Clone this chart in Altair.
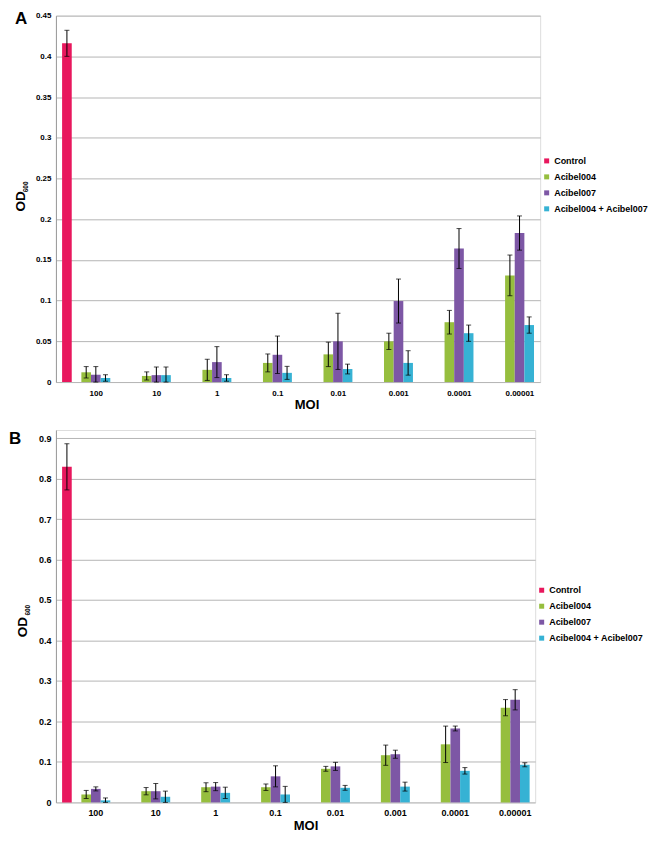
import altair as alt
import pandas as pd

moi = ["100", "10", "1", "0.1", "0.01", "0.001", "0.0001", "0.00001"]
series = ["Control", "Acibel004", "Acibel007", "Acibel004 + Acibel007"]
slots = ["Control", "gap", "Acibel004", "Acibel007", "Acibel004 + Acibel007"]
colors = ["#E8175D", "#96BE3E", "#7D57A5", "#36B2D4"]

# Panel A
a_control = [0.416]
a_control_err = [0.016]
a_004 = [0.012, 0.0075, 0.015, 0.0235, 0.034, 0.05, 0.0735, 0.131]
a_004_err = [0.007, 0.005, 0.013, 0.011, 0.015, 0.01, 0.0145, 0.025]
a_007 = [0.009, 0.0085, 0.0245, 0.0335, 0.05, 0.0995, 0.164, 0.183]
a_007_err = [0.01, 0.01, 0.019, 0.023, 0.0345, 0.027, 0.0245, 0.021]
a_combo = [0.005, 0.0085, 0.005, 0.0113, 0.016, 0.0235, 0.06, 0.07]
a_combo_err = [0.004, 0.01, 0.004, 0.008, 0.006, 0.015, 0.01, 0.01]
a_ticks = [0, 0.05, 0.1, 0.15, 0.2, 0.25, 0.3, 0.35, 0.4, 0.45]

# Panel B
b_control = [0.829]
b_control_err = [0.057]
b_004 = [0.0196, 0.0277, 0.0375, 0.0375, 0.083, 0.1166, 0.1435, 0.234]
b_004_err = [0.01, 0.009, 0.011, 0.008, 0.006, 0.025, 0.045, 0.02]
b_007 = [0.0334, 0.0277, 0.039, 0.0644, 0.089, 0.119, 0.1826, 0.2535]
b_007_err = [0.005, 0.019, 0.01, 0.026, 0.01, 0.01, 0.006, 0.025]
b_combo = [0.005, 0.0139, 0.0236, 0.0196, 0.036, 0.039, 0.078, 0.093]
b_combo_err = [0.006, 0.014, 0.014, 0.02, 0.006, 0.011, 0.008, 0.005]
b_ticks = [0, 0.1, 0.2, 0.3, 0.4, 0.5, 0.6, 0.7, 0.8, 0.9]

FONT = "Liberation Sans"


def build_df(ctrl, ctrl_err, s004, e004, s007, e007, sc, ec):
    rows = [dict(moi=moi[0], series="Control", value=ctrl[0], err=ctrl_err[0])]
    for i, m in enumerate(moi):
        rows.append(dict(moi=m, series="Acibel004", value=s004[i], err=e004[i]))
        rows.append(dict(moi=m, series="Acibel007", value=s007[i], err=e007[i]))
        rows.append(dict(moi=m, series="Acibel004 + Acibel007", value=sc[i], err=ec[i]))
    df = pd.DataFrame(rows)
    df["lo"] = (df["value"] - df["err"]).clip(lower=0)
    df["hi"] = df["value"] + df["err"]
    return df


def panel(letter, df, ymax, ticks, w, h, tick_fs, leg_fs, legx, legy, titlex, titley,
          lab_pad, od_pos, sub_pos, letter_pos, left_guard):
    x = alt.X("moi:N", sort=moi,
              scale=alt.Scale(paddingInner=0, paddingOuter=0),
              axis=alt.Axis(title="MOI", labelAngle=0, labelOffset=10, labelFontSize=tick_fs,
                            labelFontWeight="bold", labelColor="black", labelPadding=lab_pad,
                            titleFontSize=13, titleFontWeight="bold", titleColor="black",
                            titleX=titlex, titleY=titley, titleBaseline="middle",
                            domain=False, ticks=False, labelFont=FONT, titleFont=FONT))
    xo = alt.XOffset("series:N", scale=alt.Scale(domain=slots, paddingInner=0, paddingOuter=0.64))
    yscale = alt.Scale(domain=[0, ymax], nice=False)
    base = alt.Chart(df)
    bars = base.mark_bar().encode(
        x=x, xOffset=xo,
        y=alt.Y("value:Q", scale=yscale,
                axis=alt.Axis(values=ticks, format="~g", title=None, grid=True,
                              gridColor="#b5b5b5", gridWidth=1, domainColor="#9a9a9a",
                              ticks=False, labelPadding=5, labelFontSize=tick_fs,
                              labelFontWeight="bold", labelColor="black", labelFont=FONT)),
        color=alt.Color("series:N", scale=alt.Scale(domain=series, range=colors),
                        legend=alt.Legend(title=None, orient="none", legendX=legx, legendY=legy,
                                          symbolType="square", symbolSize=25, symbolStrokeWidth=0,
                                          labelFontSize=leg_fs, labelFontWeight="bold",
                                          labelColor="black", labelFont=FONT, rowPadding=6,
                                          labelOffset=3, padding=0)),
    )
    rules = base.mark_rule(color="black", strokeWidth=1).encode(
        x=x, xOffset=xo, y=alt.Y("lo:Q", scale=yscale), y2="hi:Q")
    caps_hi = base.mark_tick(color="black", thickness=1, size=5).encode(
        x=x, xOffset=xo, y=alt.Y("hi:Q", scale=yscale))
    caps_lo = base.mark_tick(color="black", thickness=1, size=5).encode(
        x=x, xOffset=xo, y=alt.Y("lo:Q", scale=yscale))
    tdf = pd.DataFrame({"t": [letter]})
    let = alt.Chart(tdf).mark_text(fontSize=17, fontWeight="bold", font=FONT, align="left",
                                   baseline="top", color="black").encode(
        text="t:N", x=alt.value(letter_pos[0]), y=alt.value(letter_pos[1]))
    od = alt.Chart(pd.DataFrame({"t": ["OD"]})).mark_text(
        fontSize=13.5, fontWeight="bold", font=FONT, angle=270, align="center",
        baseline="middle", color="black").encode(
        text="t:N", x=alt.value(od_pos[0]), y=alt.value(od_pos[1]))
    sub = alt.Chart(pd.DataFrame({"t": ["600"]})).mark_text(
        fontSize=6.5, fontWeight="bold", font=FONT, angle=270, align="center",
        baseline="middle", color="black").encode(
        text="t:N", x=alt.value(sub_pos[0]), y=alt.value(sub_pos[1]))
    layers = [bars, rules, caps_hi, caps_lo, let, od, sub]
    if left_guard is not None:
        guard = alt.Chart(tdf).mark_rule(strokeOpacity=0).encode(
            x=alt.value(left_guard), x2=alt.value(left_guard + 2), y=alt.value(h / 2))
        layers.append(guard)
    return alt.layer(*layers).properties(width=w, height=h)


df_a = build_df(a_control, a_control_err, a_004, a_004_err, a_007, a_007_err, a_combo, a_combo_err)
df_b = build_df(b_control, b_control_err, b_004, b_004_err, b_007, b_007_err, b_combo, b_combo_err)

pa = panel("A", df_a, 0.45, a_ticks, 485, 367, 8, 9, 487, 141, 251, 22, 7,
           (-35, 186), (-29.5, 171.5), (-41, -5), None)
pb = panel("B", df_b, 0.92, b_ticks, 480, 373, 9, 9, 482, 156, 250, 23, 6,
           (-32.5, 197.5), (-27.5, 180.5), (-47, 1.5), -47)

chart = alt.vconcat(pa, pb, spacing=17).resolve_scale(color="independent").properties(
    padding=0
).configure_view(stroke=None).configure(font=FONT, background="white")

chart.save("out.html", embed_options={"renderer": "svg", "actions": False})
